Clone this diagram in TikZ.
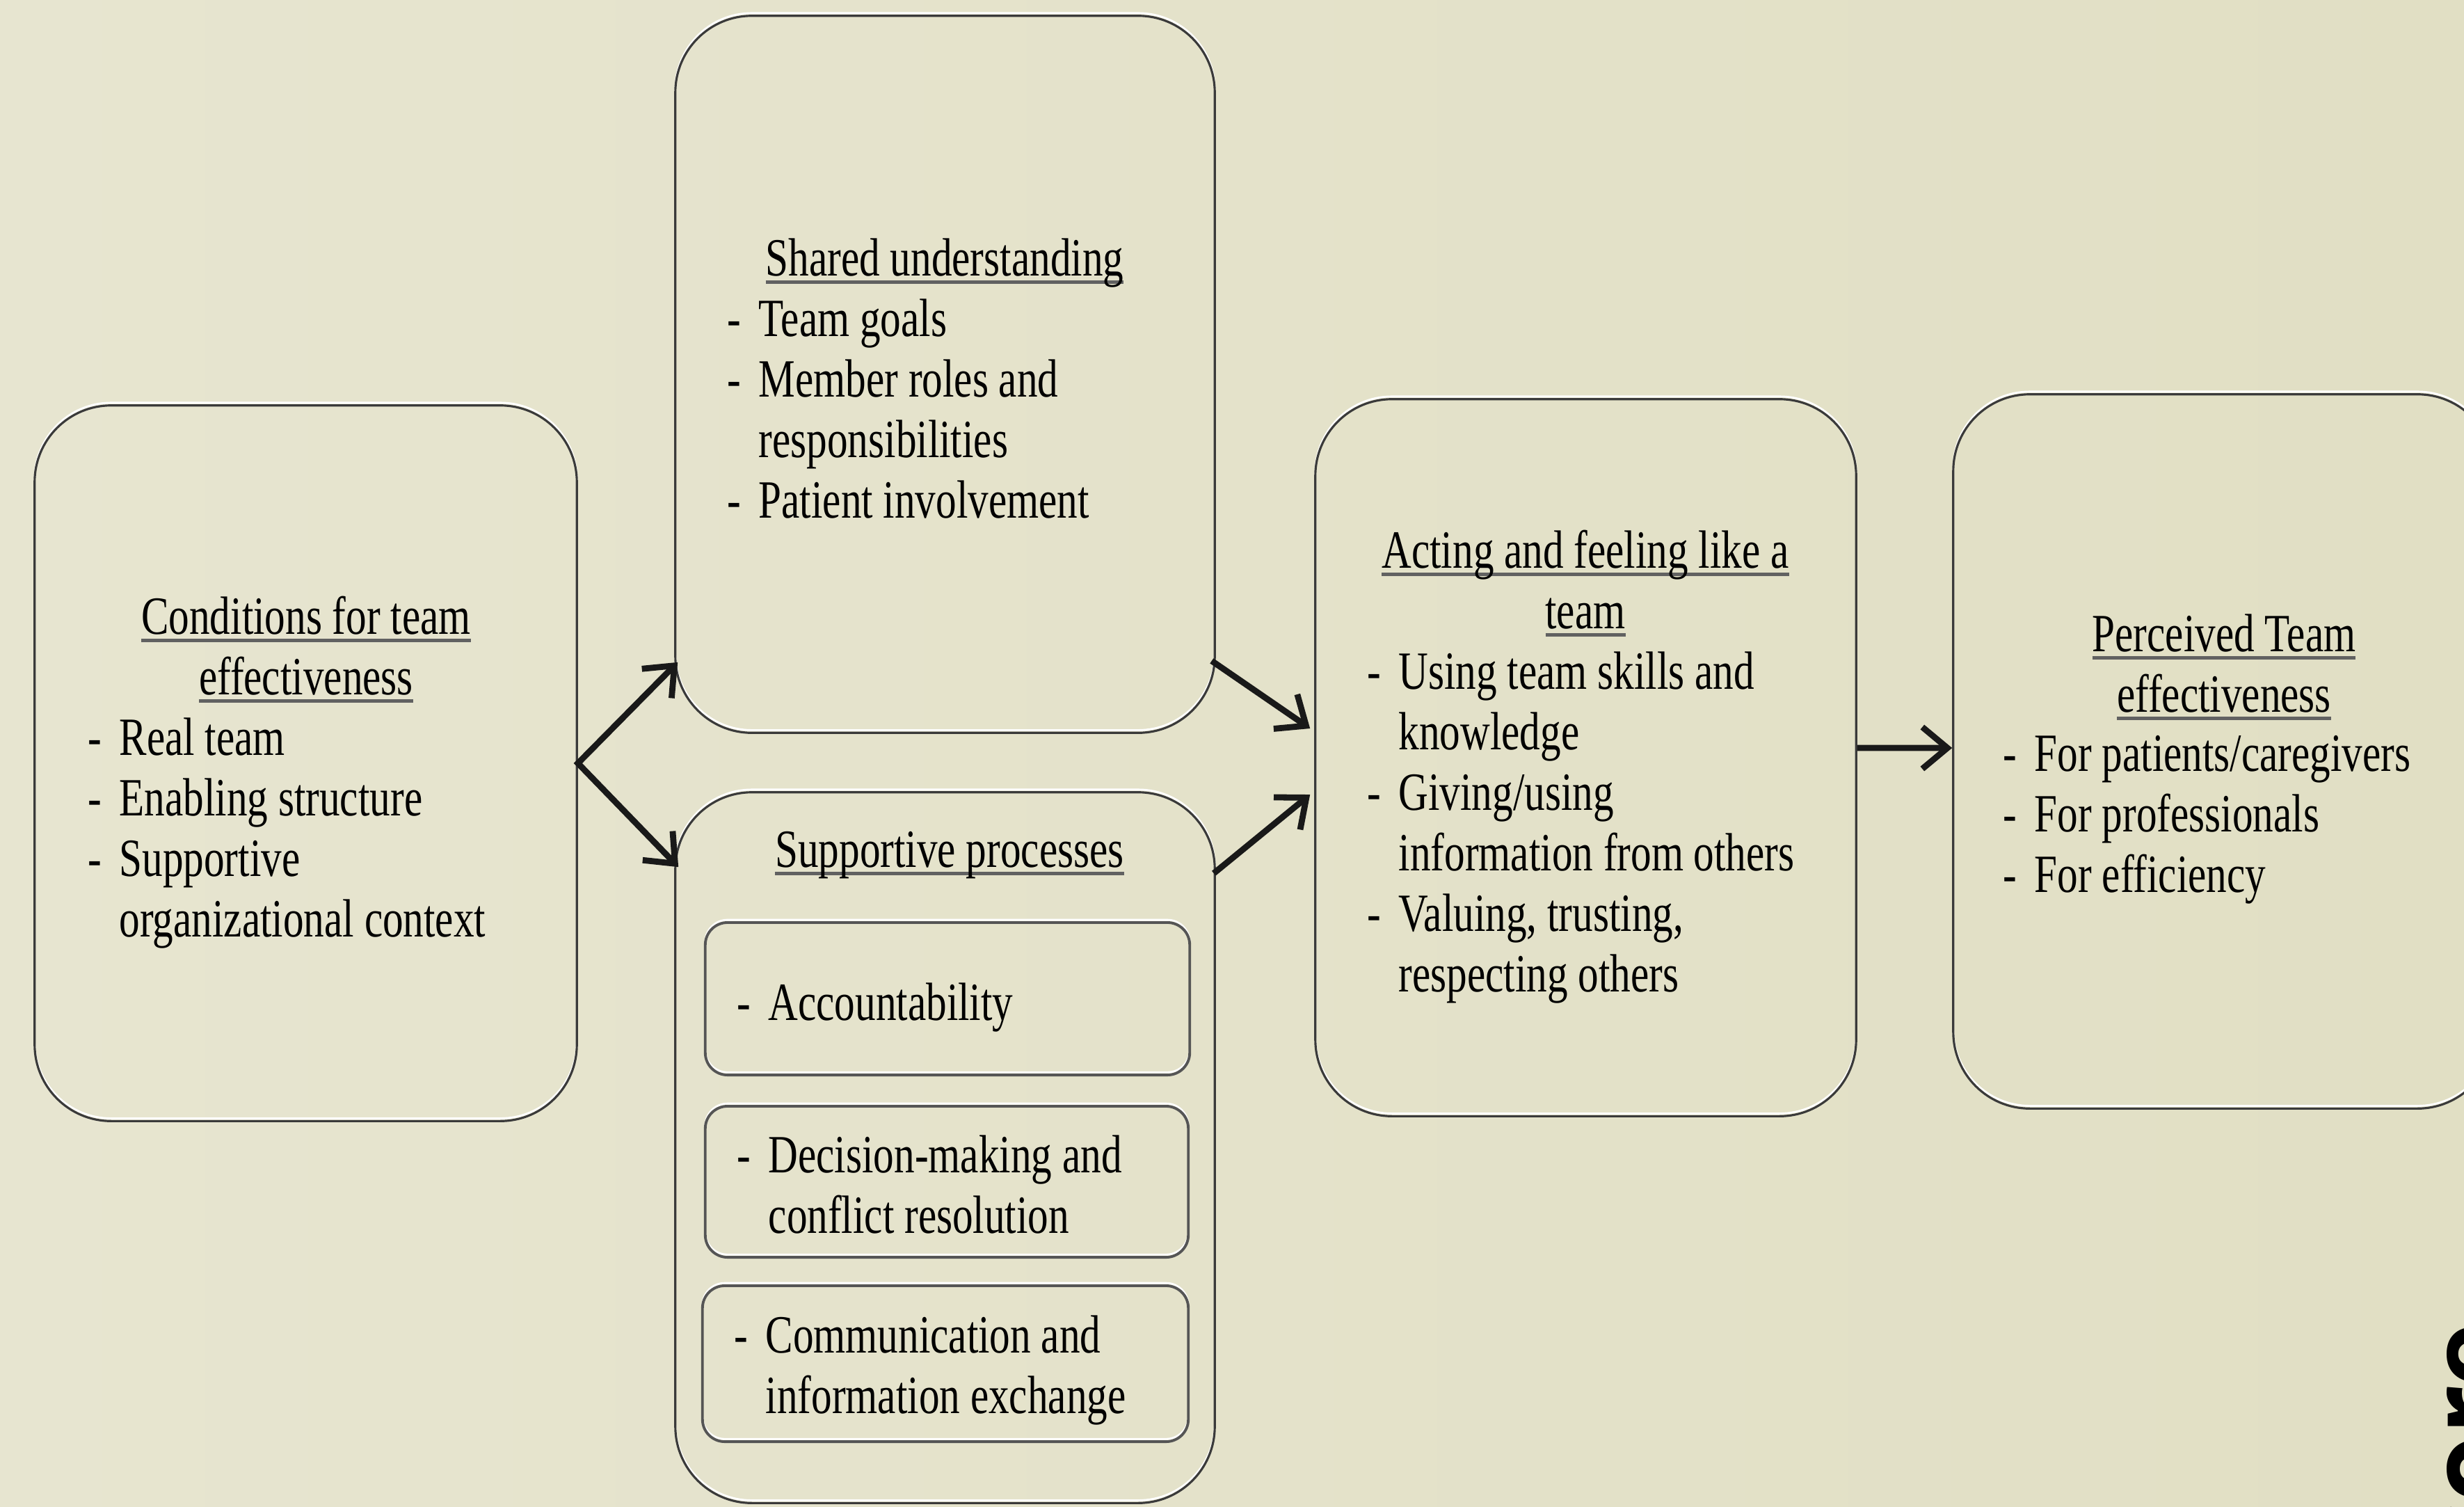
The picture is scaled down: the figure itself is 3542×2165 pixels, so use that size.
\documentclass[tikz,border=0pt]{standalone}
\usepackage{fontspec}
\setmainfont{Liberation Serif}[FakeStretch=0.765]
\newfontfamily\scorefont{Open Sans}
\usetikzlibrary{arrows.meta,calc}
\definecolor{bgA}{RGB}{231,229,208}
\definecolor{bgB}{RGB}{225,223,196}
\definecolor{edge}{RGB}{58,58,58}
\definecolor{inedge}{RGB}{85,85,85}
\newcommand\hdl[1]{\setbox0\hbox{#1}\rlap{\color{black!62}\rule[-3.3pt]{\wd0}{1.4pt}}\box0}
\newlength\dashw
\setlength\dashw{0.45cm}
\newcommand\lstitem[1]{\makebox[\dashw][l]{-}#1}
\newcommand\lstcont[1]{\hspace*{\dashw}#1}
\begin{document}
\begin{tikzpicture}[x=0.01cm,y=-0.01cm,
  box/.style={draw=edge, line width=0.9pt, rounded corners=1.1cm, inner sep=0pt,
    preaction={draw=white, line width=0.8pt, transform canvas={yshift=1.1pt}}},
  inbox/.style={draw=inedge, line width=1.1pt, rounded corners=0.32cm, inner sep=0pt,
    preaction={draw=white, line width=0.8pt, transform canvas={yshift=1.1pt}}},
  txt/.style={inner sep=0pt, font=\fontsize{22pt}{24.75pt}\selectfont},
  arr/.style={line width=2.5pt, color=black!90, -{Straight Barb[length=0.36cm,width=0.6cm]}}]
\useasboundingbox (0,0) rectangle (3542,2165);
\fill[left color=bgA, right color=bgB] (0,0) rectangle (3542,2165);

% outer boxes
\node[box, minimum width=7.79cm, minimum height=10.28cm] (b1) at (439.5,1097) {};
\node[box, minimum width=7.75cm, minimum height=10.30cm] (b2) at (1358.5,538) {};
\node[box, minimum width=7.75cm, minimum height=10.21cm] (b3) at (1358.5,1649.5) {};
\node[box, minimum width=7.77cm, minimum height=10.30cm] (b4) at (2279.5,1089) {};
\node[box, minimum width=7.77cm, minimum height=10.26cm] (b5) at (3196.5,1080) {};

% inner boxes
\node[inbox, minimum width=6.96cm, minimum height=2.19cm] (i1) at (1362,1435.5) {};
\node[inbox, minimum width=6.94cm, minimum height=2.17cm] (i2) at (1361,1698.5) {};
\node[inbox, minimum width=6.98cm, minimum height=2.24cm] (i3) at (1359,1960) {};

% box 1 text
\node[txt, anchor=base] (h1) at (440,911) {\begin{tabular}[t]{@{}c@{}}\hdl{Conditions for team}\\\hdl{effectiveness}\end{tabular}};
\node[txt, anchor=base west] (l1) at (126,1085) {\begin{tabular}[t]{@{}l@{}}\lstitem{Real team}\\\lstitem{Enabling structure}\\\lstitem{Supportive}\\\lstcont{organizational context}\end{tabular}};

% box 2 text
\node[txt, anchor=base] (h2) at (1358,396) {\begin{tabular}[t]{@{}c@{}}\hdl{Shared understanding}\end{tabular}};
\node[txt, anchor=base west] (l2) at (1045,483) {\begin{tabular}[t]{@{}l@{}}\lstitem{Team goals}\\\lstitem{Member roles and}\\\lstcont{responsibilities}\\\lstitem{Patient involvement}\end{tabular}};

% box 3 text
\node[txt, anchor=base] (h3) at (1365,1246) {\begin{tabular}[t]{@{}c@{}}\hdl{Supportive processes}\end{tabular}};
\node[txt, anchor=base west] (t1) at (1059,1466) {\begin{tabular}[t]{@{}l@{}}\lstitem{Accountability}\end{tabular}};
\node[txt, anchor=base west] (t2) at (1059,1685) {\begin{tabular}[t]{@{}l@{}}\lstitem{Decision-making and}\\\lstcont{conflict resolution}\end{tabular}};
\node[txt, anchor=base west] (t3) at (1055,1944) {\begin{tabular}[t]{@{}l@{}}\lstitem{Communication and}\\\lstcont{information exchange}\end{tabular}};

% box 4 text
\node[txt, anchor=base] (h4) at (2279,816) {\begin{tabular}[t]{@{}c@{}}\hdl{Acting and feeling like a}\\\hdl{team}\end{tabular}};
\node[txt, anchor=base west] (l4) at (1965,990) {\begin{tabular}[t]{@{}l@{}}\lstitem{Using team skills and}\\\lstcont{knowledge}\\\lstitem{Giving/using}\\\lstcont{information from others}\\\lstitem{Valuing, trusting,}\\\lstcont{respecting others}\end{tabular}};

% box 5 text
\node[txt, anchor=base] (h5) at (3197,936) {\begin{tabular}[t]{@{}c@{}}\hdl{Perceived Team}\\\hdl{effectiveness}\end{tabular}};
\node[txt, anchor=base west] (l5) at (2879,1108) {\begin{tabular}[t]{@{}l@{}}\lstitem{For patients/caregivers}\\\lstitem{For professionals}\\\lstitem{For efficiency}\end{tabular}};

% arrows
\draw[arr, {Straight Barb[length=0.36cm,width=0.6cm]}-{Straight Barb[length=0.36cm,width=0.6cm]}]
  ([xshift=0.05cm,yshift=1.03cm]b2.south west) -- (b1.east) -- ([xshift=0.06cm,yshift=-1.09cm]b3.north west);
\draw[arr] ([xshift=-0.06cm,yshift=1.05cm]b2.south east) -- ([xshift=-0.06cm,yshift=0.42cm]b4.west);
\draw[arr] ([xshift=-0.03cm,yshift=-1.18cm]b3.north east) -- ([xshift=-0.06cm,yshift=-0.53cm]b4.west);
\draw[arr] ([yshift=0.14cm]b4.east) -- ([yshift=0.05cm]b5.west);

% cut-off side label
\node[rotate=90, anchor=base east, inner sep=0pt, font=\scorefont\bfseries\fontsize{45pt}{50pt}\selectfont] (score) at (3605,1900) {Score};
\end{tikzpicture}
\end{document}
